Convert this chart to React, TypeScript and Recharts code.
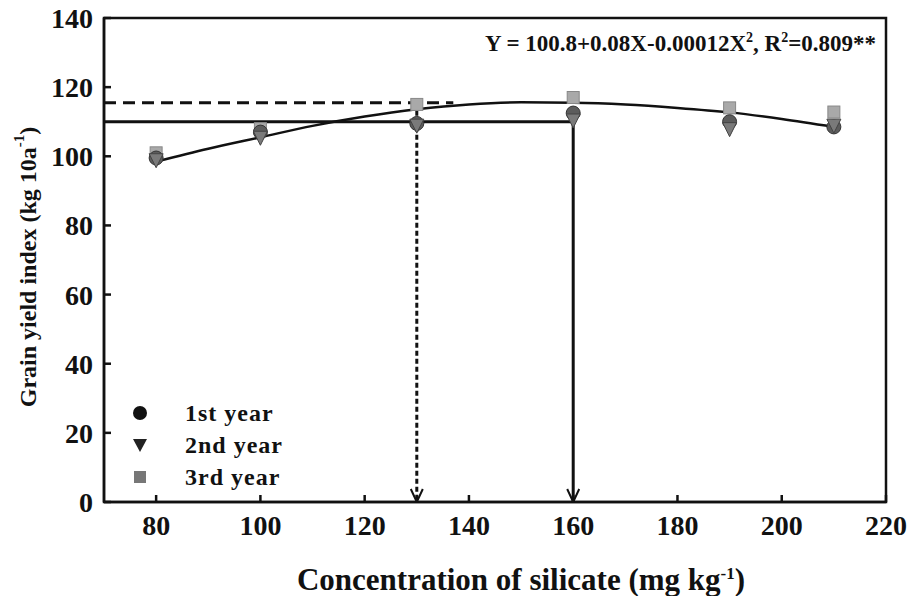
import { ComposedChart, Line, Scatter, XAxis, YAxis, ReferenceArea } from "recharts";

// silicate rates (mg/kg) and yield index per year
const concentrations = [80, 100, 130, 160, 190, 210];
const year1 = [99.5, 107, 109.5, 112.5, 110, 108.5];
const year2 = [99, 105.5, 109, 110.5, 108, 109];
const year3 = [101, 108, 115, 117, 114, 112.8];

// fitted response curve
const fitX = [80, 90, 100, 110, 120, 130, 140, 150, 160, 170, 180, 190, 200, 210];
const fitY = [98.5, 102.2, 105.5, 108.8, 111.5, 113.6, 115, 115.6, 115.5, 115, 114, 112.7, 110.8, 108.5];

// optimum guides: solid = 160 at 110, dashed = 130 at 115.5
const solidGuideX = [70, 160, 160];
const solidGuideY = [110, 110, 0];
const dashedFlatX = [70, 137];
const dashedFlatY = [115.5, 115.5];
const dashedDropX = [130, 130];
const dashedDropY = [115.5, 0];

const xTicks = [80, 100, 120, 140, 160, 180, 200, 220];
const yTicks = [0, 20, 40, 60, 80, 100, 120, 140];

const FONT = "'Liberation Serif', 'Times New Roman', serif";
const INK = "#111";

const zip = (xs: number[], ys: number[]) => xs.map((x, i) => ({ x, y: ys[i] }));

const circleShape = (p: any) => (
  <circle cx={p.cx} cy={p.cy} r={7} fill="#5c5c5c" stroke="#333" strokeWidth={1} />
);
const triangleShape = (p: any) => (
  <path
    d={`M${p.cx - 7},${p.cy - 6} L${p.cx + 7},${p.cy - 6} L${p.cx},${p.cy + 8} Z`}
    fill="#7a7a7a"
    stroke="#444"
    strokeWidth={1}
  />
);
const squareShape = (p: any) => (
  <rect x={p.cx - 6} y={p.cy - 6} width={12} height={12} fill="#a9a9a9" stroke="#888" strokeWidth={1} />
);

const arrowDot = (p: any) => {
  if (p.payload.y !== 0) return <g key={p.key} />;
  return (
    <path
      key={p.key}
      d={`M${p.cx - 6},${p.cy - 13} L${p.cx},${p.cy} L${p.cx + 6},${p.cy - 13}`}
      fill="none"
      stroke={INK}
      strokeWidth={2}
    />
  );
};

function LegendBox() {
  const rows = [
    { name: "1st year", icon: <circle cx={10} cy={10} r={7} fill="#111" /> },
    { name: "2nd year", icon: <path d="M3,4 L17,4 L10,17 Z" fill="#222" /> },
    { name: "3rd year", icon: <rect x={4} y={4} width={12} height={12} fill="#777" /> },
  ];
  return (
    <div
      style={{
        position: "absolute",
        left: 130,
        top: 397,
        fontFamily: FONT,
        fontWeight: "bold",
        fontSize: 24,
        letterSpacing: 1,
        color: INK,
      }}
    >
      {rows.map((r) => (
        <div key={r.name} style={{ display: "flex", alignItems: "center", height: 32 }}>
          <svg width={20} height={20} style={{ marginRight: 35 }}>
            {r.icon}
          </svg>
          <span>{r.name}</span>
        </div>
      ))}
    </div>
  );
}

const yTitle = () => {
  const cx = 28;
  const cy = 267;
  return (
    <text
      x={cx}
      y={cy}
      transform={`rotate(-90, ${cx}, ${cy})`}
      textAnchor="middle"
      dominantBaseline="central"
      style={{ fontFamily: FONT, fontWeight: "bold", fontSize: 24, fill: INK }}
    >
      Grain yield index (kg 10a
      <tspan dy={-9} style={{ fontSize: 15 }}>-1</tspan>
      <tspan dy={9}>)</tspan>
    </text>
  );
};

const xTitle = () => (
  <text
    x={521}
    y={590}
    textAnchor="middle"
    style={{ fontFamily: FONT, fontWeight: "bold", fontSize: 31, fill: INK }}
  >
    Concentration of silicate (mg kg
    <tspan dy={-11} style={{ fontSize: 17 }}>-1</tspan>
    <tspan dy={11}>)</tspan>
  </text>
);

const tickStyle = { fontFamily: FONT, fontWeight: "bold", fontSize: 28, fill: INK };

export default function App() {
  return (
    <div style={{ position: "absolute", left: 0, top: 0, width: 909, height: 596, background: "#fff" }}>
      <ComposedChart
        width={909}
        height={596}
        margin={{ top: 18, right: 23, left: 0, bottom: 0 }}
        style={{ fontFamily: FONT }}
      >
        <XAxis
          dataKey="x"
          type="number"
          domain={[70, 220]}
          ticks={xTicks}
          allowDataOverflow
          height={94}
          tick={tickStyle}
          tickSize={-7}
          tickMargin={20}
          axisLine={{ stroke: INK, strokeWidth: 2.5 }}
          tickLine={{ stroke: INK, strokeWidth: 2.5 }}
          label={{ content: xTitle }}
        />
        <YAxis
          dataKey="y"
          type="number"
          domain={[0, 140]}
          ticks={yTicks}
          allowDataOverflow
          width={104}
          tick={tickStyle}
          tickSize={-7}
          tickMargin={18}
          axisLine={{ stroke: INK, strokeWidth: 2.5 }}
          tickLine={{ stroke: INK, strokeWidth: 2.5 }}
          label={{ content: yTitle }}
        />
        {/* plot frame */}
        <ReferenceArea x1={70} x2={220} y1={0} y2={140} fill="none" stroke={INK} strokeWidth={2.5} ifOverflow="visible" />
        <Scatter name="3rd year" data={zip(concentrations, year3)} shape={squareShape} isAnimationActive={false} />
        <Scatter name="1st year" data={zip(concentrations, year1)} shape={circleShape} isAnimationActive={false} />
        <Scatter name="2nd year" data={zip(concentrations, year2)} shape={triangleShape} isAnimationActive={false} />
        <Line data={zip(fitX, fitY)} dataKey="y" type="monotone" stroke={INK} strokeWidth={2.5} dot={false} isAnimationActive={false} />
        <Line data={zip(dashedFlatX, dashedFlatY)} dataKey="y" stroke={INK} strokeWidth={3} strokeDasharray="12 7" dot={false} isAnimationActive={false} />
        <Line data={zip(dashedDropX, dashedDropY)} dataKey="y" stroke={INK} strokeWidth={3} strokeDasharray="5 3" dot={arrowDot} isAnimationActive={false} />
        <Line data={zip(solidGuideX, solidGuideY)} dataKey="y" stroke={INK} strokeWidth={3} dot={arrowDot} isAnimationActive={false} />
      </ComposedChart>
      <LegendBox />
      <div
        style={{
          position: "absolute",
          right: 33,
          top: 30,
          fontFamily: FONT,
          fontWeight: "bold",
          fontSize: 23,
          color: INK,
          whiteSpace: "nowrap",
        }}
      >
        Y = 100.8+0.08X-0.00012X<sup style={{ fontSize: 14 }}>2</sup>, R<sup style={{ fontSize: 14 }}>2</sup>=0.809**
      </div>
    </div>
  );
}
